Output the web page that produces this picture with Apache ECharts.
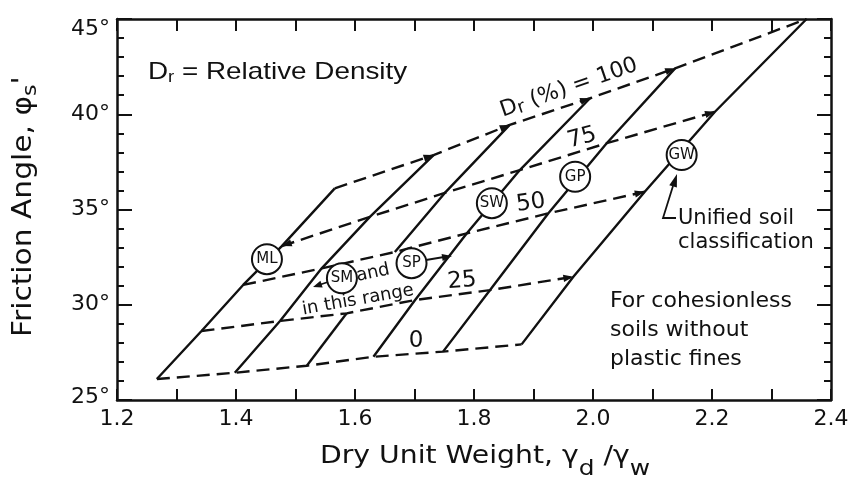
<!DOCTYPE html>
<html><head><meta charset="utf-8">
<script src="https://cdn.jsdelivr.net/npm/echarts@6/dist/echarts.min.js"></script>
<style>html,body{margin:0;padding:0;background:#fff}#c{width:852px;height:487px}</style>
</head><body><div id="c"></div>
<script>
// ---- data: six soil lines (left -> right), read at each relative density ----
const drLevels = [0, 25, 50, 75, 100];
const unitWeightDr0   = [1.267, 1.398, 1.519, 1.631, 1.748, 1.880];
const frictionDr0     = [26.10, 26.43, 26.80, 27.27, 27.54, 27.92];
const unitWeightDr25  = [1.342, 1.474, 1.586, 1.701, 1.827, 1.967];
const frictionDr25    = [28.62, 29.15, 29.55, 30.25, 30.77, 31.47];
const unitWeightDr50  = [1.412, 1.544, 1.667, 1.788, 1.925, 2.087];
const frictionDr50    = [31.04, 31.91, 32.77, 33.75, 34.80, 35.93];
const unitWeightDr75  = [1.477, 1.625, 1.751, 1.877, 2.023, 2.205];
const frictionDr75    = [33.08, 34.61, 35.87, 37.07, 38.48, 40.13];
const unitWeightDr100 = [1.566, 1.732, 1.860, 1.995, 2.138, 2.359];
const frictionDr100   = [36.11, 37.86, 39.44, 40.84, 42.41, 45.00];

// unified soil classification markers
const soilClasses = ['ML', 'SM', 'SP', 'SW', 'GP', 'GW'];
const soilClassX  = [1.452, 1.578, 1.695, 1.830, 1.970, 2.149];
const soilClassY  = [32.39, 31.39, 32.18, 35.33, 36.72, 37.86];

// junctions where a dashed Dr line ends in an arrowhead: [Dr index, line index, direction]
const junctionArrows = [[4, 1, 1], [4, 2, 1], [4, 3, 1], [4, 4, 1], [3, 0, -1], [3, 5, 1], [2, 5, 1], [1, 5, 1]];

// tick labels
const xTickLabels = ['1.2', '1.4', '1.6', '1.8', '2.0', '2.2', '2.4'];
const yTickLabels = ['25°', '30°', '35°', '40°', '45°'];

// ---- build ----
const unitWeight = [unitWeightDr0, unitWeightDr25, unitWeightDr50, unitWeightDr75, unitWeightDr100];
const friction   = [frictionDr0, frictionDr25, frictionDr50, frictionDr75, frictionDr100];
// third line is interrupted where the "SM and SP in this range" note is lettered
const lineBreaks = { 2: [1] };  // break after Dr index 1 on line index 2

const INK = '#111';
const FONT = 'DejaVu Sans';
const LW = 2.4;
const series = [];

for (let i = 0; i < soilClasses.length; i++) {
  let seg = [];
  const segs = [];
  drLevels.forEach((dr, k) => {
    seg.push([unitWeight[k][i], friction[k][i]]);
    if (lineBreaks[i] && lineBreaks[i].includes(k)) { segs.push(seg); seg = []; }
  });
  segs.push(seg);
  segs.forEach(s => series.push({
    type: 'line', data: s, symbol: 'none', silent: true, z: 2,
    lineStyle: { color: INK, width: LW }
  }));
}
drLevels.forEach((dr, k) => {
  series.push({
    type: 'line', name: 'Dr ' + dr, symbol: 'none', silent: true, z: 2,
    data: unitWeight[k].map((x, i) => [x, friction[k][i]]),
    lineStyle: { color: INK, width: LW, type: [13, 7] }
  });
});
series.push({
  type: 'scatter', silent: true, z: 5,
  data: soilClasses.map((n, i) => ({ name: n, value: [soilClassX[i], soilClassY[i]] })),
  symbol: 'circle', symbolSize: 30,
  itemStyle: { color: '#fff', borderColor: INK, borderWidth: 2, opacity: 1 },
  label: { show: true, position: 'inside', formatter: '{b}', fontFamily: FONT, fontSize: 15, color: INK }
});

function arrowHead(x1, y1, x2, y2, len, half) {
  const dx = x2 - x1, dy = y2 - y1, L = Math.hypot(dx, dy), ux = dx / L, uy = dy / L;
  const bx = x2 - ux * len, by = y2 - uy * len;
  return { type: 'polygon', silent: true, z: 10,
    shape: { points: [[x2, y2], [bx - uy * half, by + ux * half], [bx + uy * half, by - ux * half]] },
    style: { fill: INK } };
}
function seg(points) {
  return { type: 'polyline', silent: true, z: 10, shape: { points }, style: { stroke: INK, lineWidth: 1.8, fill: null } };
}
function txt(x, y, text, opts) {
  const o = Object.assign({ size: 22, align: 'center', vAlign: 'middle', rot: 0, family: FONT, rich: null, lh: null, scaleX: 1 }, opts || {});
  const style = { text, fill: INK, fontFamily: o.family, fontSize: o.size,
    align: o.align, verticalAlign: o.vAlign, textAlign: o.align, textVerticalAlign: o.vAlign };
  if (o.lh) style.lineHeight = o.lh;
  if (o.rich) style.rich = o.rich;
  return { type: 'text', x, y, rotation: o.rot * Math.PI / 180, scaleX: o.scaleX, silent: true, z: 10, style };
}
const R = (fam, size, lh, extra) => Object.assign({ fontFamily: fam, fontSize: size, lineHeight: lh, fill: INK, color: INK }, extra || {});

const graphic = [
  txt(148, 72, '{a|D}{s|r}{a| = Relative Density}', { align: 'left', scaleX: 1.16,
    rich: { a: R('Liberation Sans', 24, 28), s: R('Liberation Sans', 16, 16, { padding: [12, 0, 0, 0] }) } }),
  txt(24, 337, "{a|Friction Angle, φ}{s|s}{a|'}", { align: 'left', rot: 90, scaleX: 1.1,
    rich: { a: R(FONT, 27, 32), s: R(FONT, 20, 18, { padding: [14, 0, 0, 0] }) } }),
  txt(320, 456, '{a|Dry Unit Weight, γ}{s|d}{a| /γ}{s|w}', { align: 'left', scaleX: 1.13,
    rich: { a: R(FONT, 25, 30), s: R(FONT, 22, 20, { padding: [26, 0, 0, 0] }) } }),
  txt(569, 88, '{a|D}{s|r}{a| (%) = 100}', { rot: 19,
    rich: { a: R(FONT, 22, 26), s: R(FONT, 18, 16, { padding: [6, 0, 0, 0] }) } }),
  txt(582, 138, '75', { size: 23, rot: 15 }),
  txt(531, 203, '50', { size: 23, rot: 8 }),
  txt(462, 281, '25', { size: 23, rot: 5 }),
  txt(416, 341, '0', { size: 23 }),
  txt(373, 273, 'and', { size: 18, rot: 12 }),
  txt(358, 300, 'in this range', { size: 18, rot: 10 }),
  txt(678, 207, 'Unified soil\nclassification', { align: 'left', vAlign: 'top', lh: 24, size: 21 }),
  txt(610, 287, 'For cohesionless\nsoils without\nplastic fines', { align: 'left', vAlign: 'top', lh: 29 }),
  seg([[328, 282], [316, 286]]), arrowHead(328, 282, 313, 287, 9, 3.5),
  seg([[426, 260], [444, 257]]), arrowHead(426, 260, 452, 256, 10, 3.5),
  seg([[676, 218], [663, 218], [673, 186]]), arrowHead(663, 218, 677, 174, 13, 4)
];

const axisLine = { show: true, onZero: false, lineStyle: { color: INK, width: 2.5 } };
const option = {
  animation: false,
  backgroundColor: '#fff',
  textStyle: { fontFamily: FONT, color: INK },
  grid: { left: 117, right: 21, top: 19, bottom: 87, containLabel: false, outerBoundsMode: 'none' },
  xAxis: [
    { type: 'value', position: 'bottom', min: 1.2, max: 2.4, interval: 0.1, axisLine,
      axisTick: { show: true, inside: true, length: 11, lineStyle: { color: INK, width: 2 } },
      axisLabel: { show: true, margin: 8, color: INK, fontFamily: FONT, fontSize: 22,
        formatter: v => { const s = v.toFixed(1); return xTickLabels.includes(s) ? s : ''; } },
      splitLine: { show: false } },
    { type: 'value', position: 'top', min: 1.2, max: 2.4, interval: 0.1, axisLine,
      axisTick: { show: true, inside: true, length: 12, lineStyle: { color: INK, width: 2 } },
      axisLabel: { show: false }, splitLine: { show: false } }
  ],
  yAxis: [
    { type: 'value', position: 'left', min: 25, max: 45, interval: 5, axisLine,
      axisTick: { show: true, inside: true, length: 15, lineStyle: { color: INK, width: 2 } },
      minorTick: { show: true, splitNumber: 5, length: 7, lineStyle: { color: INK, width: 2 } },
      axisLabel: { show: true, margin: 7, color: INK, fontFamily: FONT, fontSize: 22,
        formatter: v => {
          const s = yTickLabels.find(t => parseFloat(t) === Math.round(v)) || '';
          if (v === 45) return '{t|' + s + '}';
          if (v === 25) return '{b|' + s + '}';
          return s;
        },
        rich: { t: { fontFamily: FONT, fontSize: 22, lineHeight: 22, color: INK, padding: [20, 0, 0, 0] },
                b: { fontFamily: FONT, fontSize: 22, lineHeight: 22, color: INK, padding: [0, 0, 5, 0] } } },
      splitLine: { show: false } },
    { type: 'value', position: 'right', min: 25, max: 45, interval: 5, axisLine,
      axisTick: { show: true, inside: true, length: 14, lineStyle: { color: INK, width: 2 } },
      minorTick: { show: true, splitNumber: 5, length: 7, lineStyle: { color: INK, width: 2 } },
      axisLabel: { show: false }, splitLine: { show: false } }
  ],
  series,
  graphic
};
const chart = echarts.init(document.getElementById('c'));
chart.setOption(option);

// arrowheads at dashed/solid junctions, placed through the chart's own scales
const toPx = (k, i) => chart.convertToPixel({ seriesIndex: 0 }, [unitWeight[k][i], friction[k][i]]);
const arrows = junctionArrows.map(([k, i, dir]) => {
  const tip = toPx(k, i), from = toPx(k, i - dir);
  return arrowHead(from[0], from[1], tip[0], tip[1], 10, 3.6);
});
chart.setOption({ graphic: graphic.concat(arrows) });
</script></body></html>
